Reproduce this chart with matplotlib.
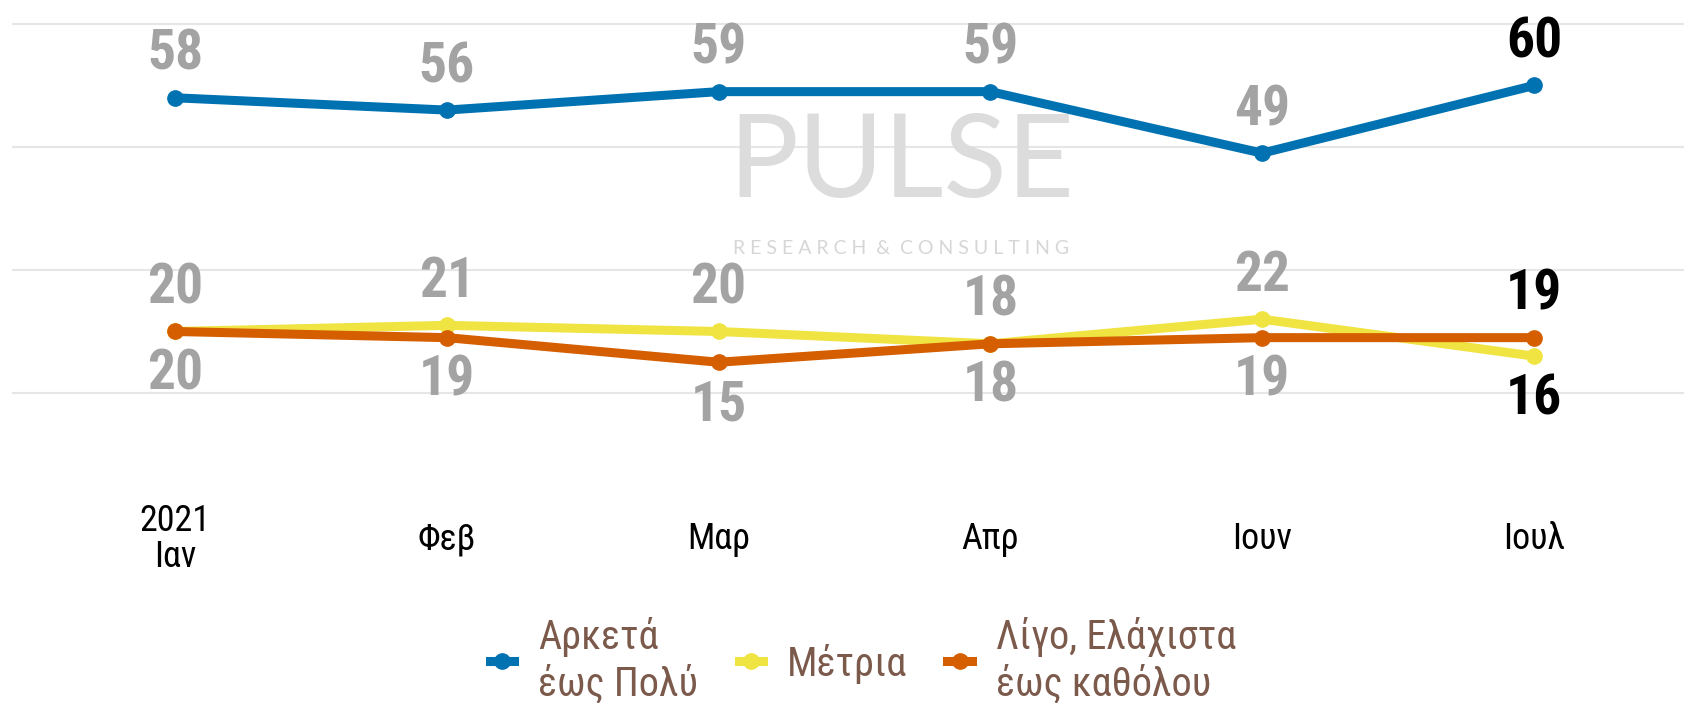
import matplotlib
matplotlib.use("Agg")
import matplotlib.pyplot as plt
import numpy as np

plt.rcParams['font.family'] = ['Roboto Condensed', 'Liberation Sans Narrow', 'Roboto', 'DejaVu Sans']

months = ["2021\nΙαν", "Φεβ", "Μαρ", "Απρ", "Ιουν", "Ιουλ"]
much = [58, 56, 59, 59, 49, 60]
medium = [20, 21, 20, 18, 22, 16]
little = [20, 19, 15, 18, 19, 19]

series_names = ["Αρκετά\nέως Πολύ", "Μέτρια", "Λίγο, Ελάχιστα\nέως καθόλου"]
colors = ["#0072B2", "#F0E442", "#D55E00"]
# label above (+1) or below (-1) each point
much_side = [1, 1, 1, 1, 1, 1]
medium_side = [1, 1, 1, 1, 1, -1]
little_side = [-1, -1, -1, -1, -1, 1]

W, H = 1684, 703
fig = plt.figure(figsize=(W / 100, H / 100), dpi=100)
ax = fig.add_axes([12 / W, (H - 454.5) / H, 1 - 12 / W, 454.5 / H])

x = np.arange(len(months))
all_vals = [much, medium, little]
all_sides = [much_side, medium_side, little_side]

for vals, col, name in zip(all_vals, colors, series_names):
    ax.plot(x, vals, color=col, lw=6.5, marker="o", ms=11, label=name,
            solid_joinstyle="miter", zorder=3)

for vals, sides in zip(all_vals, all_sides):
    for i, (v, s) in enumerate(zip(vals, sides)):
        last = i == len(vals) - 1
        ax.annotate(str(v), (x[i], v), xytext=(0, 31 * s), textcoords="offset points",
                    ha="center", va="center", fontsize=40, fontweight="bold",
                    color="black" if last else "#a3a3a3", zorder=4)

# watermark
ax.text(0.532, 0.638, "PULSE", transform=ax.transAxes, ha="center", va="center",
        fontsize=84, color="#dcdcdc", family=["Lato", "DejaVu Sans"],
        zorder=1)
ax.text(0.532, 0.454, "R E S E A R C H  &  C O N S U L T I N G", transform=ax.transAxes,
        ha="center", va="center", fontsize=14, color="#d6d6d6",
        family=["Lato", "DejaVu Sans"], zorder=1)

ax.set_xlim(-0.6, 5.552)
ax.set_ylim(0, 73.9)
ax.set_yticks([10, 30, 50, 70])
ax.set_yticklabels([])
ax.grid(axis="y", color="#e6e6e6", lw=1.5)
ax.set_axisbelow(True)
ax.set_xticks(x)
ax.set_xticklabels(months, fontsize=26, va="center", linespacing=1.0)
ax.tick_params(axis="both", length=0)
ax.tick_params(axis="x", pad=61)
for sp in ax.spines.values():
    sp.set_visible(False)

leg = fig.legend(loc="center", bbox_to_anchor=(863 / W, 1 - 660 / H), ncol=3,
                 frameon=False, fontsize=29, handlelength=0.6, handletextpad=0.6,
                 columnspacing=1.0, labelcolor="#7b5a4c")

fig.savefig("out.png", dpi=100)
